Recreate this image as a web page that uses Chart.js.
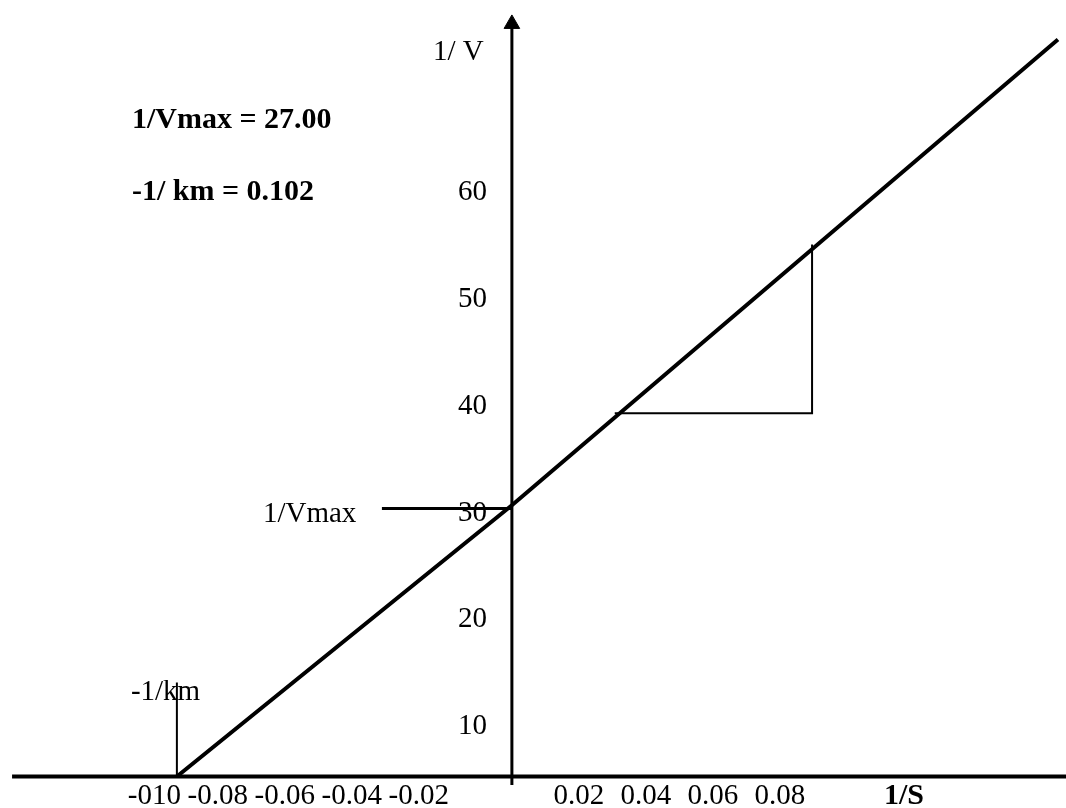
<!DOCTYPE html>
<html>
<head>
<meta charset="utf-8">
<title>Lineweaver-Burk plot</title>
<script src="https://cdn.jsdelivr.net/npm/chart.js@4.4.1/dist/chart.umd.min.js"></script>
<style>
  html, body { margin: 0; padding: 0; background: #fff; overflow: hidden; }
  #wrap { width: 1066px; height: 808px; }
</style>
</head>
<body>
<div id="wrap"><canvas id="lbPlot"></canvas></div>
<script>
// values (x = 1/S, y = 1/V)
const lineS = [-0.10, 0, 0.163];
const lineV = [5.1, 30.5, 74.1];

const xTickValues = [-0.10, -0.08, -0.06, -0.04, -0.02, 0.02, 0.04, 0.06, 0.08];
const xTickLabels = ["-010", "-0.08", "-0.06", "-0.04", "-0.02", "0.02", "0.04", "0.06", "0.08"];
const yTickValues = [10, 20, 30, 40, 50, 60];
const yTickLabels = ["10", "20", "30", "40", "50", "60"];

// slope triangle and intercept markers
const triangleS = [0.0307, 0.0896, 0.0896];
const triangleV = [39.1, 39.1, 54.9];
const vmaxS = [-0.0388, 0];
const vmaxV = [30.2, 30.2];
const kmS = [-0.10, -0.10];
const kmV = [5.1, 13.9];

// axes of the sketch
const axisXLevel = 5.1;
const xAxisS = [-0.1492, 0.1654];
const yAxisV = [4.3, 75.5];
const arrowV = 75.56;

const xMin = -0.1528, xMax = 0.1654, yMin = 2.15, yMax = 77.8;

const toPoints = (xs, ys) => xs.map((v, i) => ({ x: v, y: ys[i] }));

const segment = (data, width) => ({
  data: data,
  showLine: true,
  borderColor: "#000",
  borderWidth: width,
  pointRadius: 0,
  tension: 0,
});

const serif = "'Liberation Serif', 'Times New Roman', serif";

const sketchText = {
  id: "sketchText",
  afterDatasetsDraw(chart) {
    const { ctx } = chart;
    const x = chart.scales.x;
    const y = chart.scales.y;
    const x0 = x.getPixelForValue(0);
    const axisY = y.getPixelForValue(axisXLevel);

    ctx.save();
    ctx.fillStyle = "#000";
    ctx.textBaseline = "alphabetic";
    ctx.font = "29px " + serif;

    // 1/S tick labels
    xTickValues.forEach((v, i) => {
      const px = x.getPixelForValue(v);
      if (v < 0) {
        ctx.textAlign = "right";
        ctx.fillText(xTickLabels[i], px + 4, axisY + 28);
      } else {
        ctx.textAlign = "center";
        ctx.fillText(xTickLabels[i], px, axisY + 28);
      }
    });

    // 1/V tick labels
    ctx.textAlign = "right";
    yTickValues.forEach((v, i) => {
      ctx.fillText(yTickLabels[i], x0 - 25, y.getPixelForValue(v) + 10);
    });

    // axis names and intercept labels
    ctx.textAlign = "left";
    ctx.fillText("1/ V", x0 - 79, 60);
    ctx.fillText("1/Vmax", x0 - 249, y.getPixelForValue(vmaxV[0]) + 14);
    ctx.fillText("-1/km", x.getPixelForValue(kmS[0]) - 46, y.getPixelForValue(kmV[1]) + 17);

    ctx.font = "bold 30px " + serif;
    ctx.textAlign = "center";
    ctx.fillText("1/S", 904, axisY + 28);

    ctx.textAlign = "left";
    ctx.fillText("1/Vmax = 27.00", 132, 128);
    ctx.fillText("-1/ km = 0.102", 132, 200);
    ctx.restore();
  },
};

const ctx = document.getElementById("lbPlot").getContext("2d");
const lbChart = new Chart(ctx, {
  type: "scatter",
  data: {
    datasets: [
      segment(toPoints(xAxisS, [axisXLevel, axisXLevel]), 4),
      segment(toPoints([0, 0], yAxisV), 3),
      {
        data: [{ x: 0, y: arrowV }],
        pointStyle: "triangle",
        pointRadius: 9,
        backgroundColor: "#000",
        borderColor: "#000",
        borderWidth: 1,
      },
      segment(toPoints(lineS, lineV), 4),
      segment(toPoints(triangleS, triangleV), 2),
      segment(toPoints(vmaxS, vmaxV), 3),
      segment(toPoints(kmS, kmV), 2),
    ],
  },
  options: {
    responsive: true,
    maintainAspectRatio: false,
    animation: false,
    layout: { padding: 0, autoPadding: false },
    plugins: {
      legend: { display: false },
      tooltip: { enabled: false },
    },
    scales: {
      x: { type: "linear", min: xMin, max: xMax, display: false },
      y: { type: "linear", min: yMin, max: yMax, display: false },
    },
  },
  plugins: [sketchText],
});
</script>
</body>
</html>
